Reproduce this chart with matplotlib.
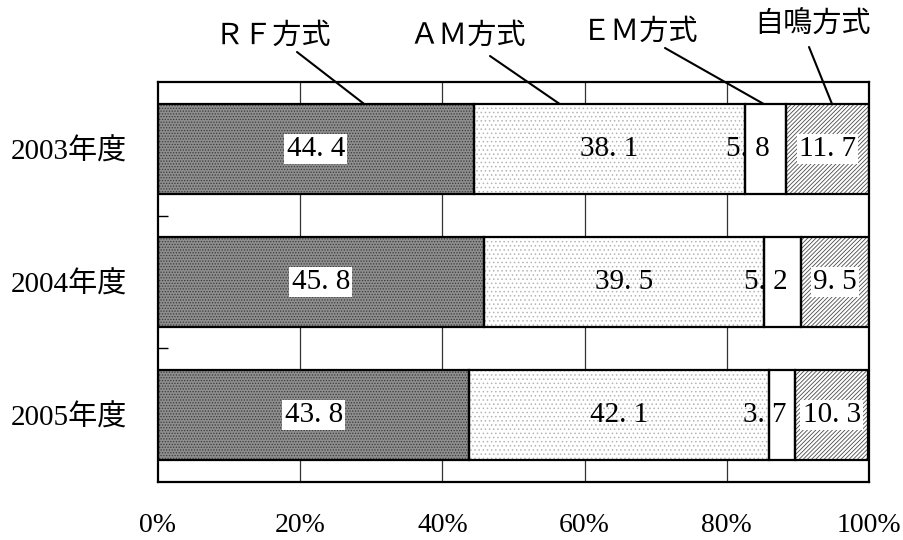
import numpy as np
import matplotlib
matplotlib.use('Agg')
import matplotlib.pyplot as plt

plt.rcParams['font.family'] = ['Liberation Serif', 'Noto Sans CJK JP', 'DejaVu Sans']
plt.rcParams['hatch.linewidth'] = 0.6

years = ['2003年度', '2004年度', '2005年度']
methods = ['ＲＦ方式', 'ＡＭ方式', 'ＥＭ方式', '自鳴方式']
rf = [44.4, 45.8, 43.8]
am = [38.1, 39.5, 42.1]
em = [5.8, 5.2, 3.7]
jimei = [11.7, 9.5, 10.3]
xticks = [0, 20, 40, 60, 80, 100]

series = [rf, am, em, jimei]
faces = ['#8e8e8e', 'white', 'white', 'white']
hatches = ['......', '....', None, '////////']
hatch_cols = ['#3a3a3a', '#b5b5b5', 'white', '#4a4a4a']

fig = plt.figure(figsize=(9.04, 5.40), dpi=100)
ax = fig.add_axes([158 / 904, 1 - 482 / 540, 711 / 904, 400 / 540])

y = np.arange(len(years))
h = 0.677
for xv in xticks[1:-1]:
    ax.axvline(xv, color='#333333', lw=0.9, zorder=0)

left = np.zeros(len(years))
for i, vals in enumerate(series):
    vals = np.array(vals)
    ax.barh(y, vals, left=left, height=h, color=faces[i], hatch=hatches[i],
            edgecolor=hatch_cols[i], linewidth=0, zorder=2)
    ax.barh(y, vals, left=left, height=h, fill=False, edgecolor='black',
            linewidth=1.6, zorder=3)
    for j in range(len(years)):
        txt = f'{vals[j]:.1f}'.replace('.', '. ')
        cx = left[j] + vals[j] / 2
        if i == 2:
            ax.text(cx + 0.6, y[j], txt, ha='right', va='center', fontsize=21, zorder=5)
        elif i == 1:
            ax.text(cx, y[j], txt, ha='center', va='center', fontsize=21, zorder=5)
        else:
            ax.text(cx, y[j], txt, ha='center', va='center', fontsize=21, zorder=5,
                    bbox=dict(boxstyle='square,pad=0.08', fc='white', ec='none'))
    left = left + vals

ax.set_xlim(0, 100)
ax.set_ylim(2.504, -0.504)
ax.set_xticks(xticks)
ax.set_xticklabels([f'{v}%' for v in xticks], fontsize=20)
ax.set_yticks(y)
ax.set_yticklabels(years, fontsize=21)
ax.set_yticks([0.5, 1.5], minor=True)
ax.tick_params(axis='x', length=0, pad=22)
ax.tick_params(axis='y', which='major', length=0, pad=22)
ax.tick_params(axis='y', which='minor', length=7, direction='in', width=1)
for s in ax.spines.values():
    s.set_linewidth(1.6)

# leader labels
label_pos = [(273, 37), (468, 37), (640, 33), (813, 25)]
line_start = [(297, 52), (490, 56), (665, 48), (809, 47)]
leader_x = [29.0, 56.5, 85.2, 94.8]
for k, name in enumerate(methods):
    fig.text(label_pos[k][0] / 904, 1 - label_pos[k][1] / 540, name,
             ha='center', va='center', fontsize=21)
    ax.annotate('', xy=(leader_x[k], y[0] - h / 2),
                xytext=(line_start[k][0], 540 - line_start[k][1]),
                textcoords='figure pixels', annotation_clip=False,
                arrowprops=dict(arrowstyle='-', lw=1.5, color='black',
                                shrinkA=0, shrinkB=0))

fig.savefig('out.png', dpi=100)
